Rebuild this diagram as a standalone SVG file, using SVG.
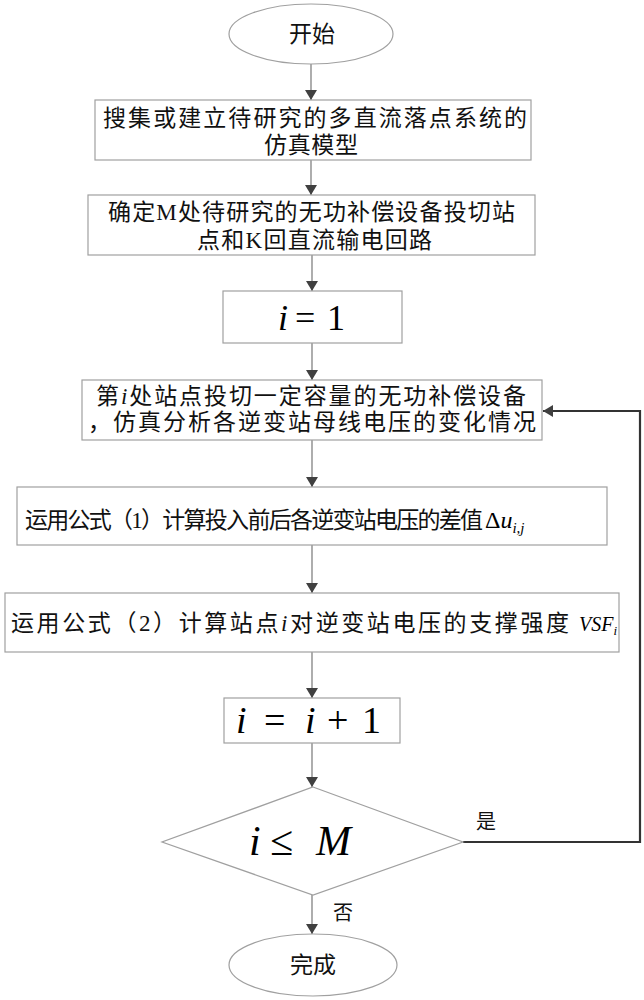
<svg xmlns="http://www.w3.org/2000/svg" width="644" height="1000" viewBox="0 0 644 1000">
<style>
.box{fill:#fff;stroke:#a0a0a0;stroke-width:1.2}
.cn{font-family:"Liberation Serif","Noto Sans CJK SC",serif;font-size:23px;fill:#111;dominant-baseline:central}
.lbl{font-family:"Liberation Serif","Noto Sans CJK SC",serif;font-size:20px;fill:#111;dominant-baseline:central}
.m{font-family:"Liberation Serif",serif;fill:#000}
.it{font-style:italic}
.conn{fill:none;stroke:#777;stroke-width:1.2}
.loop{fill:none;stroke:#333;stroke-width:2.2}
</style>
<defs>
<marker id="ah" markerWidth="10" markerHeight="12" refX="10" refY="6" orient="auto" markerUnits="userSpaceOnUse">
<path d="M0,0 L10,6 L0,12 z" fill="#404040"/>
</marker>
</defs>
<rect width="644" height="1000" fill="#fff"/>
<g id="connectors">
<line class="conn" x1="311" y1="64" x2="311" y2="100" marker-end="url(#ah)"/>
<line class="conn" x1="311" y1="160" x2="311" y2="195" marker-end="url(#ah)"/>
<line class="conn" x1="312" y1="255" x2="312" y2="291" marker-end="url(#ah)"/>
<line class="conn" x1="312" y1="343" x2="312" y2="380" marker-end="url(#ah)"/>
<line class="conn" x1="312" y1="440" x2="312" y2="487" marker-end="url(#ah)"/>
<line class="conn" x1="312" y1="545" x2="312" y2="593" marker-end="url(#ah)"/>
<line class="conn" x1="312" y1="652" x2="312" y2="698" marker-end="url(#ah)"/>
<line class="conn" x1="312" y1="743" x2="312" y2="787" marker-end="url(#ah)"/>
<line class="conn" x1="312" y1="895" x2="312" y2="934" marker-end="url(#ah)"/>
<polyline class="loop" points="463,842 640,842 640,411 543,411" marker-end="url(#ah)"/>
<text class="lbl" x="486" y="822" text-anchor="middle">是</text>
<text class="lbl" x="343" y="913" text-anchor="middle">否</text>
</g>
<g id="start">
<ellipse cx="311" cy="34" rx="82" ry="30" fill="#fff" stroke="#a0a0a0" stroke-width="1.2"/>
<text class="cn" x="312" y="34" text-anchor="middle" font-size="24">开始</text>
</g>
<g id="n1">
<rect class="box" x="95" y="100" width="436" height="60"/>
<text class="cn" x="103" y="118" textLength="424" lengthAdjust="spacing">搜集或建立待研究的多直流落点系统的</text>
<text class="cn" x="264" y="145" textLength="94" lengthAdjust="spacing">仿真模型</text>
</g>
<g id="n2">
<rect class="box" x="88" y="195" width="447" height="60"/>
<text class="cn" x="108" y="212" textLength="407" lengthAdjust="spacing">确定M处待研究的无功补偿设备投切站</text>
<text class="cn" x="197" y="240" textLength="235" lengthAdjust="spacing">点和K回直流输电回路</text>
</g>
<g id="n3">
<rect class="box" x="223" y="291" width="179" height="52"/>
<text class="m" y="330" font-size="36"><tspan class="it" x="278">i</tspan><tspan x="295">=</tspan><tspan x="327">1</tspan></text>
</g>
<g id="n4">
<rect class="box" x="82" y="380" width="460" height="60"/>
<text class="cn" x="96" y="396" font-size="22" textLength="430" lengthAdjust="spacing">第<tspan class="it" font-family="Liberation Serif">i</tspan>处站点投切一定容量的无功补偿设备</text>
<text class="cn" x="88" y="422" font-size="22" textLength="448" lengthAdjust="spacing">，仿真分析各逆变站母线电压的变化情况</text>
</g>
<g id="n5">
<rect class="box" x="17" y="487" width="590" height="58"/>
<text class="cn" x="25" y="520" font-size="22" textLength="458" lengthAdjust="spacing">运用公式（1）计算投入前后各逆变站电压的差值</text>
<text class="m" x="485" y="528" font-size="24">Δ<tspan class="it">u</tspan><tspan class="it" font-size="15" dy="5">i,j</tspan></text>
</g>
<g id="n6">
<rect class="box" x="5" y="593" width="614" height="59"/>
<text class="cn" x="11" y="623" font-size="22" textLength="558" lengthAdjust="spacing">运用公式（2）计算站点<tspan class="it" font-family="Liberation Serif">i</tspan>对逆变站电压的支撑强度</text>
<text class="m it" x="579" y="631" font-size="20">VSF<tspan font-size="13" dy="4">i</tspan></text>
</g>
<g id="n7">
<rect class="box" x="224" y="698" width="176" height="45"/>
<text class="m" y="733" font-size="38"><tspan class="it" x="236">i</tspan><tspan x="264">=</tspan><tspan class="it" x="305">i</tspan><tspan x="327">+</tspan><tspan x="362">1</tspan></text>
</g>
<g id="n8">
<polygon points="313,787 463,842 313,895 162,842" fill="#fff" stroke="#a0a0a0" stroke-width="1.2"/>
<text class="m" y="855" font-size="42"><tspan class="it" x="249">i</tspan><tspan x="270">≤</tspan><tspan class="it" x="316">M</tspan></text>
</g>
<g id="end">
<ellipse cx="313" cy="965" rx="84" ry="31" fill="#fff" stroke="#a0a0a0" stroke-width="1.2"/>
<text class="cn" x="313" y="965" text-anchor="middle" font-size="24">完成</text>
</g>
</svg>
